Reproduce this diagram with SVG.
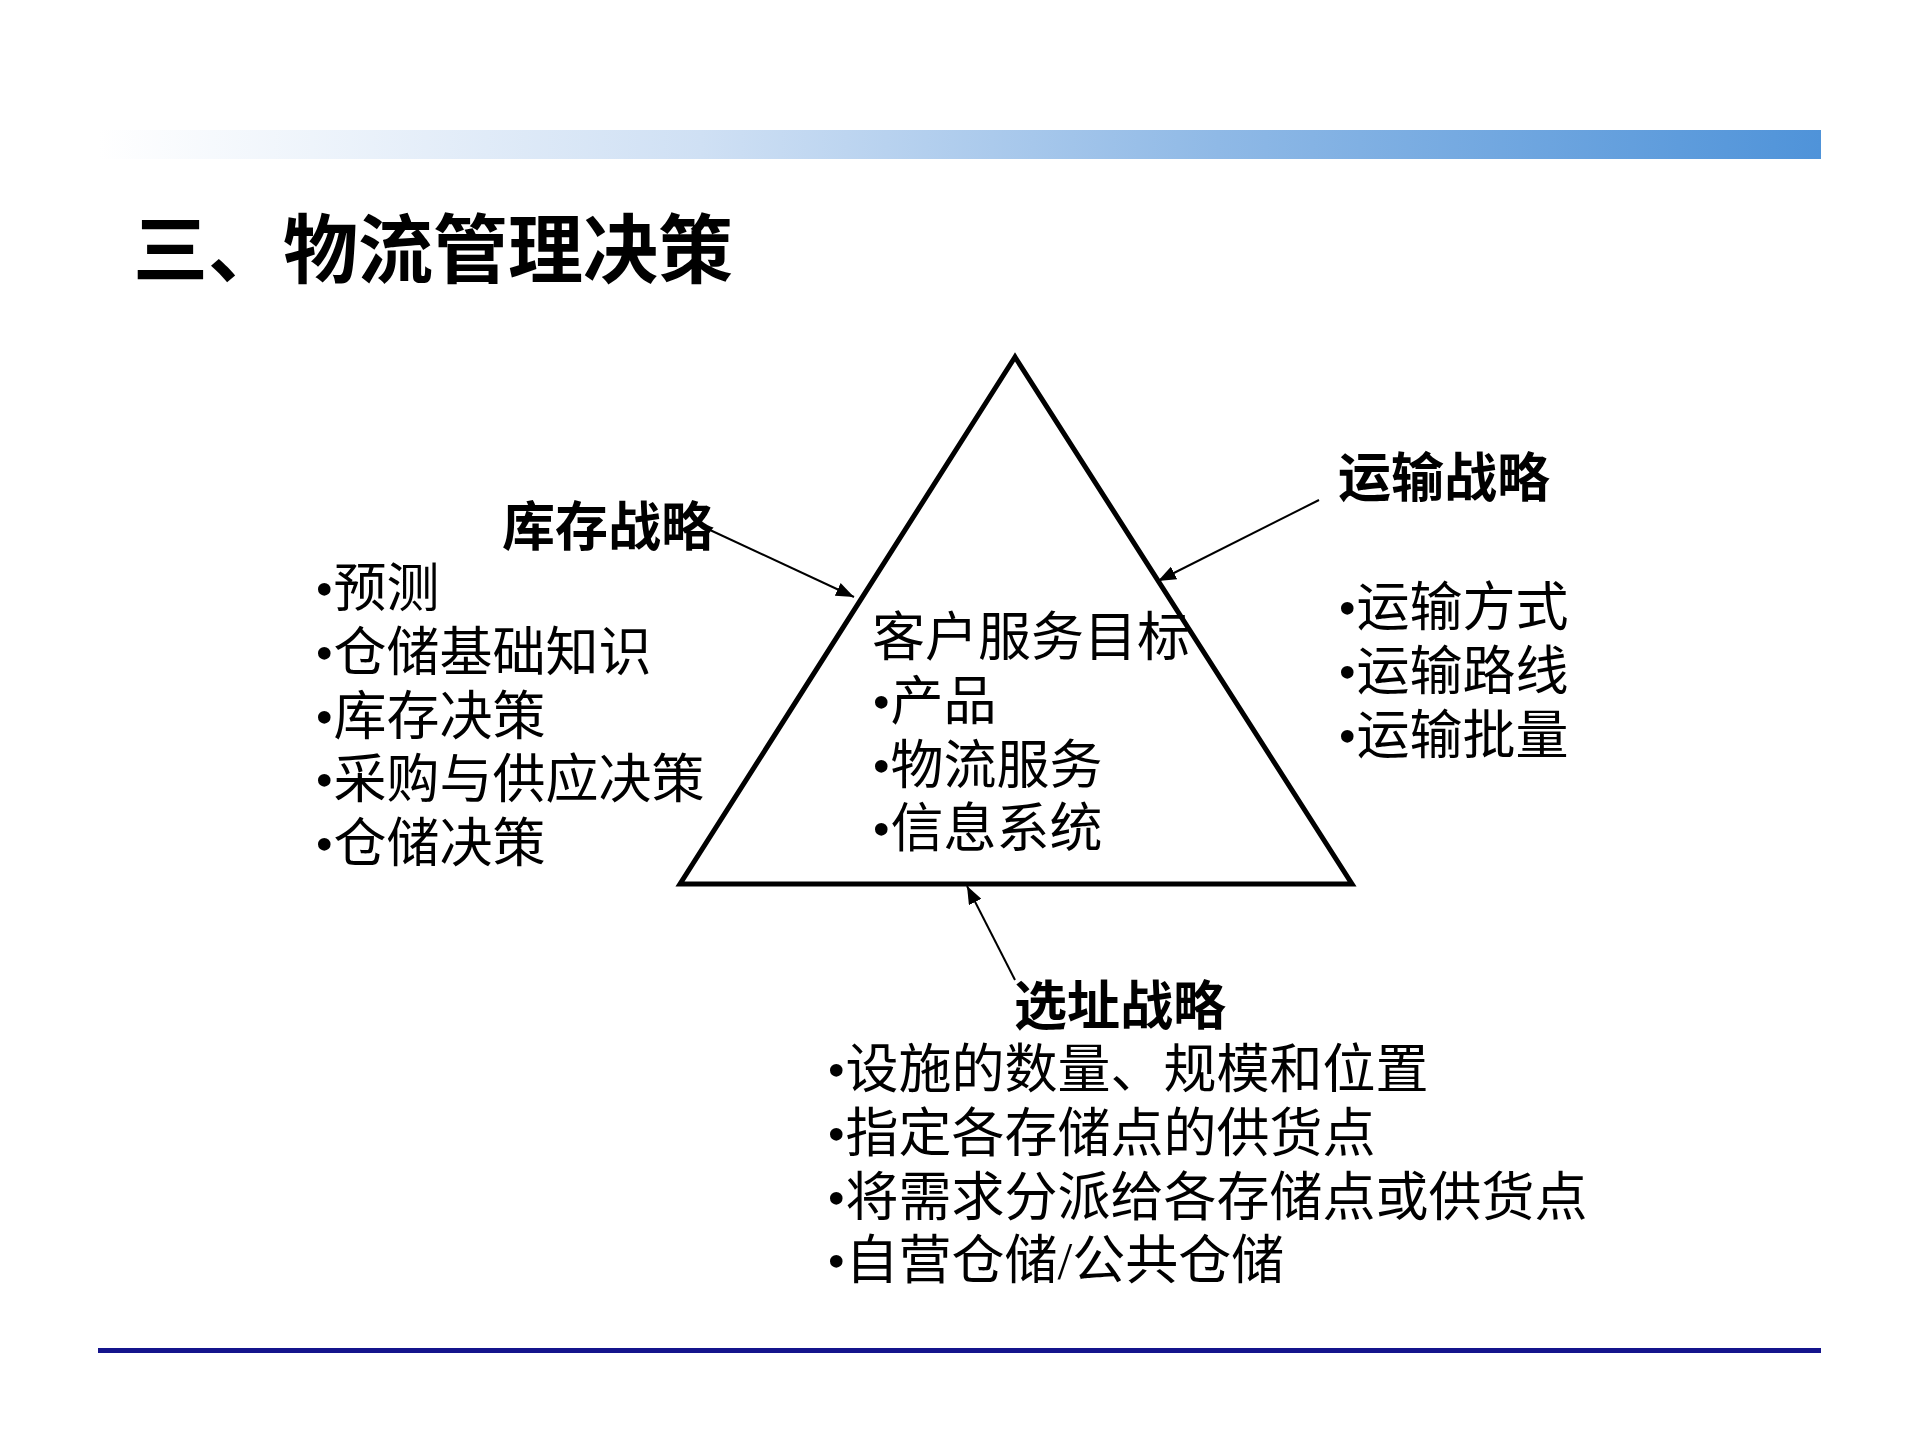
<svg xmlns="http://www.w3.org/2000/svg" width="1920" height="1440" viewBox="0 0 1920 1440">
<defs>
<linearGradient id="bar" x1="0" y1="0" x2="1" y2="0">
<stop offset="0" stop-color="#ffffff"/>
<stop offset="0.35" stop-color="#cfe0f4"/>
<stop offset="0.65" stop-color="#8fb9e6"/>
<stop offset="1" stop-color="#4f93d9"/>
</linearGradient>
<marker id="arr" markerUnits="userSpaceOnUse" markerWidth="20" markerHeight="14" refX="18" refY="7" orient="auto">
<path d="M0,0 L18,7 L0,14 Z" fill="#000"/>
</marker>
<style>
.t{font-family:"Liberation Serif","Noto Sans CJK SC",serif;font-size:53px;fill:#000}
.h{font-family:"Liberation Serif","Noto Sans CJK SC",serif;font-size:53px;font-weight:bold;fill:#000}
.title{font-family:"Noto Sans CJK SC","Liberation Sans",sans-serif;font-size:75px;font-weight:bold;fill:#000}
.c{stroke:#000;stroke-width:2;fill:none;marker-end:url(#arr)}
</style>
</defs>
<rect width="1920" height="1440" fill="#fff"/>
<g id="header">
<rect x="98" y="130" width="1723" height="29" fill="url(#bar)"/>
<text class="title" x="133" y="277">三、物流管理决策</text>
<rect x="98" y="1348" width="1723" height="5" fill="#14148c"/>
</g>
<g id="triangle">
<polygon points="1015,357 680,884 1352,884" fill="none" stroke="#000" stroke-width="5"/>
<text class="t" x="872" y="656">客户服务目标</text>
<text class="t" x="872" y="720">•产品</text>
<text class="t" x="872" y="784">•物流服务</text>
<text class="t" x="872" y="847">•信息系统</text>
</g>
<g id="inventory">
<text class="h" x="502" y="546">库存战略</text>
<text class="t" x="315" y="607">•预测</text>
<text class="t" x="315" y="671">•仓储基础知识</text>
<text class="t" x="315" y="735">•库存决策</text>
<text class="t" x="315" y="798">•采购与供应决策</text>
<text class="t" x="315" y="862">•仓储决策</text>
</g>
<g id="transport">
<text class="h" x="1338" y="497">运输战略</text>
<text class="t" x="1338" y="626">•运输方式</text>
<text class="t" x="1338" y="690">•运输路线</text>
<text class="t" x="1338" y="754">•运输批量</text>
</g>
<g id="location">
<text class="h" x="1014" y="1025">选址战略</text>
<text class="t" x="827" y="1088">•设施的数量、规模和位置</text>
<text class="t" x="827" y="1152">•指定各存储点的供货点</text>
<text class="t" x="827" y="1216">•将需求分派给各存储点或供货点</text>
<text class="t" x="827" y="1279">•自营仓储/公共仓储</text>
</g>
<g id="connectors">
<line class="c" x1="710" y1="530" x2="854" y2="597"/>
<line class="c" x1="1319" y1="500" x2="1158" y2="581"/>
<line class="c" x1="1015" y1="980" x2="967" y2="886"/>
</g>
</svg>
